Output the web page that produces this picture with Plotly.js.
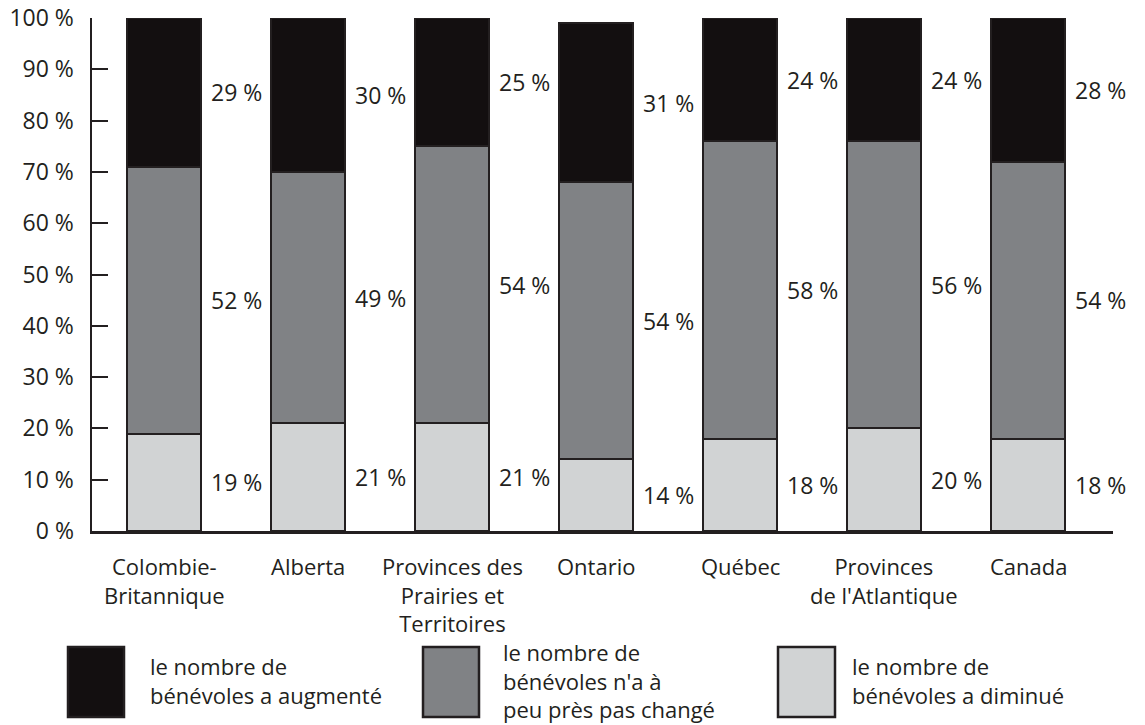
<!DOCTYPE html>
<html><head><meta charset="utf-8">
<script src="https://cdn.plot.ly/plotly-3.0.1.min.js"></script>
<style>body{margin:0;background:#fff}#chart{width:1145px;height:725px}</style>
</head><body><div id="chart"></div>
<script>
// ---- data ----
const categories = ["Colombie-<br>Britannique", "Alberta", "Provinces des<br>Prairies et<br>Territoires", "Ontario", "Québec", "Provinces<br>de l'Atlantique", "Canada"];
const decreased = [19, 21, 21, 14, 18, 20, 18];
const unchanged = [52, 49, 54, 54, 58, 56, 54];
const increased = [29, 30, 25, 31, 24, 24, 28];
const seriesNames = ["le nombre de<br>bénévoles a diminué", "le nombre de<br>bénévoles n'a à<br>peu près pas changé", "le nombre de<br>bénévoles a augmenté"];
const yTickValues = [0, 10, 20, 30, 40, 50, 60, 70, 80, 90, 100];

// ---- styling ----
const FONT = "'Open Sans', 'Noto Sans', sans-serif";
const FS = 23;
const FS_SMALL = 22;
const TXT = '#231f20';
const EDGE = '#231f20';
const colors = ['#d1d3d4', '#808285', '#130f10'];
const L = 92, R = 1113, T = 18, B = 531;
const px2x = p => (p - L) / (R - L);
const py2y = p => (B - p) / (B - T);

const series = [decreased, unchanged, increased];
const traces = series.map((vals, s) => ({
  type: 'bar', x: categories, y: vals, name: seriesNames[s],
  marker: {color: colors[s], line: {color: EDGE, width: 2}},
  hoverinfo: 'skip'
}));

const annotations = [];
// value labels, right of each bar segment
categories.forEach((c, i) => {
  let base = 0;
  series.forEach(vals => {
    annotations.push({
      x: i + 0.5, y: base + vals[i] / 2, xref: 'x', yref: 'y',
      text: vals[i] + ' %', showarrow: false, xanchor: 'center', yanchor: 'middle',
      font: {family: FONT, size: FS, color: TXT}
    });
    base += vals[i];
  });
});

// category labels under the bars
categories.forEach((c, i) => {
  annotations.push({
    x: i, xref: 'x', yref: 'paper', y: py2y(549),
    text: c, showarrow: false, xanchor: 'center', yanchor: 'top', align: 'center',
    font: {family: FONT, size: FS_SMALL, color: TXT}
  });
});

// legend (drawn manually): order increased, unchanged, decreased
const legendOrder = [2, 1, 0];
const boxX = [[68, 124], [423, 479], [778, 835]];
const textX = [148, 501, 850];
const shapes = [];
legendOrder.forEach((s, k) => {
  shapes.push({
    type: 'rect', xref: 'paper', yref: 'paper',
    x0: px2x(boxX[k][0]), x1: px2x(boxX[k][1]), y0: py2y(717), y1: py2y(647),
    fillcolor: colors[s], line: {color: EDGE, width: 2.5}
  });
  annotations.push({
    xref: 'paper', yref: 'paper', x: px2x(textX[k]), y: py2y(680),
    text: seriesNames[s], showarrow: false, xanchor: 'left', yanchor: 'middle', align: 'left',
    font: {family: FONT, size: FS_SMALL, color: TXT}
  });
});

const layout = {
  width: 1145, height: 725,
  margin: {l: L, r: 1145 - R, t: T, b: 725 - B},
  paper_bgcolor: '#fff', plot_bgcolor: '#fff',
  barmode: 'stack', bargap: 0.49, showlegend: false,
  font: {family: FONT, size: FS, color: TXT},
  xaxis: {
    type: 'category', range: [-0.5, 6.59], showline: true, linecolor: EDGE, linewidth: 2.5,
    ticks: '', showgrid: false, zeroline: false, showticklabels: false
  },
  yaxis: {
    range: [0, 100], tickvals: yTickValues, ticktext: yTickValues.map(v => v + ' %'),
    ticks: 'inside', ticklen: 16, tickwidth: 2, tickcolor: EDGE,
    showline: true, linecolor: EDGE, linewidth: 2.5, showgrid: false, zeroline: false,
    tickfont: {family: FONT, size: FS, color: TXT}, ticklabelstandoff: 11
  },
  annotations: annotations, shapes: shapes
};

Plotly.newPlot('chart', traces, layout, {staticPlot: true, displayModeBar: false});
</script>
</body></html>
